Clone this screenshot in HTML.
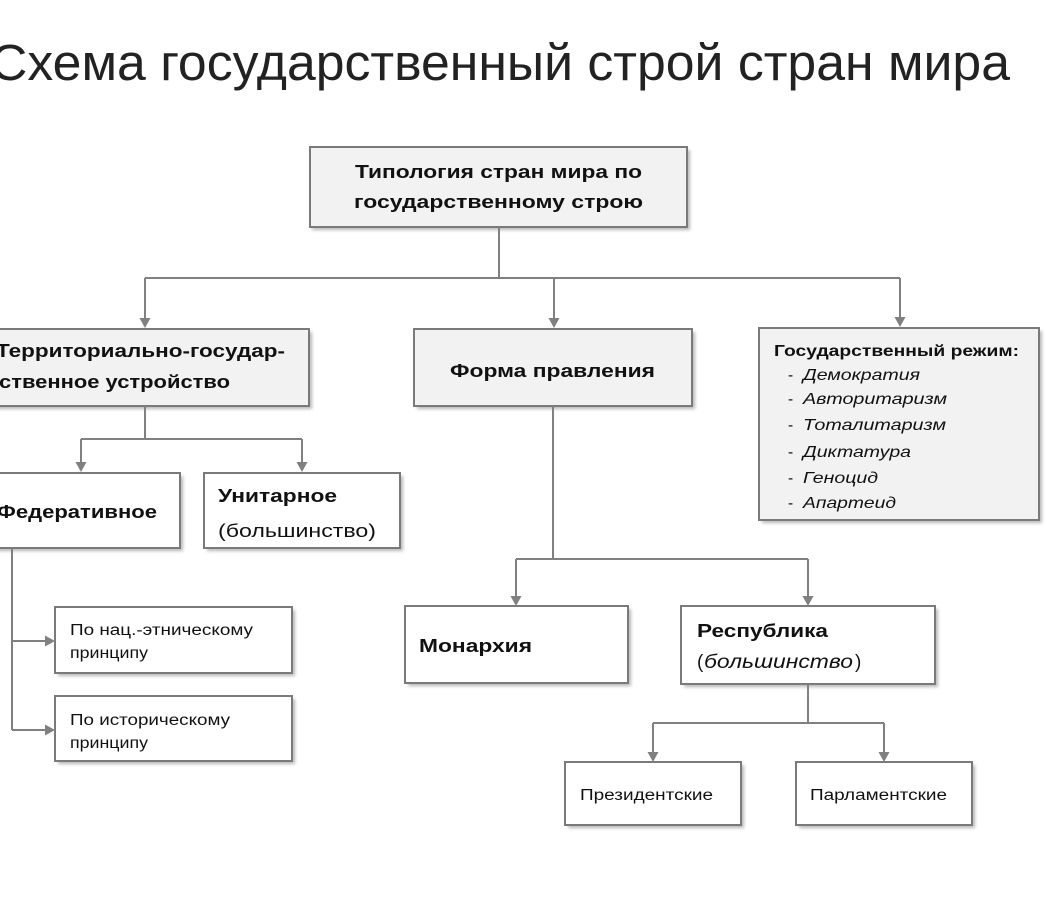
<!DOCTYPE html>
<html><head><meta charset="utf-8">
<style>
html,body{margin:0;padding:0;background:#fff;}
svg{display:block;}
text{font-family:"Liberation Sans","Noto Sans CJK SC",sans-serif;fill:#111;}
</style></head>
<body>
<svg width="1047" height="908" viewBox="0 0 1047 908" xmlns="http://www.w3.org/2000/svg">
<defs>
<filter id="sh" x="-5%" y="-5%" width="115%" height="120%">
<feGaussianBlur stdDeviation="1.5"/>
</filter>
</defs>
<rect width="1047" height="908" fill="#fff"/>

<!-- Title -->
<text x="-10" y="80" font-size="51" textLength="1020" lengthAdjust="spacingAndGlyphs" style="fill:#222">Схема государственный строй стран мира</text>

<!-- shadows -->
<g fill="#9a9a9a" opacity="0.7" filter="url(#sh)">
<rect x="312" y="150" width="378" height="80"/>
<rect x="-5" y="332" width="317" height="77"/>
<rect x="417" y="332" width="278" height="77"/>
<rect x="762" y="331" width="280" height="192"/>
<rect x="-5" y="476" width="188" height="75"/>
<rect x="207" y="476" width="196" height="75"/>
<rect x="58" y="610" width="237" height="66"/>
<rect x="58" y="699" width="237" height="65"/>
<rect x="408" y="609" width="223" height="77"/>
<rect x="684" y="609" width="254" height="78"/>
<rect x="568" y="765" width="176" height="63"/>
<rect x="799" y="765" width="176" height="63"/>
</g>

<!-- boxes -->
<g stroke="#7a7a7a" stroke-width="2">
<rect x="310" y="147" width="377" height="80" fill="#f2f2f2"/>
<rect x="-8" y="329" width="317" height="77" fill="#f2f2f2"/>
<rect x="414" y="329" width="278" height="77" fill="#f2f2f2"/>
<rect x="759" y="328" width="280" height="192" fill="#f2f2f2"/>
<rect x="-8" y="473" width="188" height="75" fill="#fff"/>
<rect x="204" y="473" width="196" height="75" fill="#fff"/>
<rect x="55" y="607" width="237" height="66" fill="#fff"/>
<rect x="55" y="696" width="237" height="65" fill="#fff"/>
<rect x="405" y="606" width="223" height="77" fill="#fff"/>
<rect x="681" y="606" width="254" height="78" fill="#fff"/>
<rect x="565" y="762" width="176" height="63" fill="#fff"/>
<rect x="796" y="762" width="176" height="63" fill="#fff"/>
</g>

<!-- connectors -->
<g stroke="#808080" stroke-width="2" fill="none">
<path d="M499 227 V278"/>
<path d="M145 278 H900"/>
<path d="M145 278 V320"/>
<path d="M554 278 V320"/>
<path d="M900 278 V319"/>
<path d="M145 406 V439"/>
<path d="M81 439 H302"/>
<path d="M81 439 V464"/>
<path d="M302 439 V464"/>
<path d="M12 548 V730"/>
<path d="M12 641 H47"/>
<path d="M12 730 H47"/>
<path d="M553 406 V559"/>
<path d="M516 559 H808"/>
<path d="M516 559 V598"/>
<path d="M808 559 V598"/>
<path d="M808 684 V723"/>
<path d="M653 723 H884"/>
<path d="M653 723 V754"/>
<path d="M884 723 V754"/>
</g>
<g fill="#808080">
<polygon points="139.5,318 150.5,318 145,328"/>
<polygon points="548.5,318 559.5,318 554,328"/>
<polygon points="894.5,317 905.5,317 900,327"/>
<polygon points="75.5,462 86.5,462 81,472"/>
<polygon points="296.5,462 307.5,462 302,472"/>
<polygon points="45,635.5 45,646.5 55,641"/>
<polygon points="45,724.5 45,735.5 55,730"/>
<polygon points="510.5,596 521.5,596 516,606"/>
<polygon points="802.5,596 813.5,596 808,606"/>
<polygon points="647.5,752 658.5,752 653,762"/>
<polygon points="878.5,752 889.5,752 884,762"/>
</g>

<!-- text -->
<g font-weight="bold" font-size="18.5">
<text x="355" y="178" textLength="287" lengthAdjust="spacingAndGlyphs">Типология стран мира по</text>
<text x="354" y="208" textLength="289" lengthAdjust="spacingAndGlyphs">государственному строю</text>
<text x="-4" y="357" textLength="289" lengthAdjust="spacingAndGlyphs">Территориально-государ-</text>
<text x="-1" y="388" textLength="231" lengthAdjust="spacingAndGlyphs">ственное устройство</text>
<text x="450" y="377" textLength="205" lengthAdjust="spacingAndGlyphs">Форма правления</text>
<text x="-3" y="518" textLength="160" lengthAdjust="spacingAndGlyphs">Федеративное</text>
<text x="218" y="502" textLength="119" lengthAdjust="spacingAndGlyphs">Унитарное</text>
<text x="419" y="652" textLength="113" lengthAdjust="spacingAndGlyphs">Монархия</text>
<text x="697" y="637" textLength="131" lengthAdjust="spacingAndGlyphs">Республика</text>
</g>
<text x="774" y="356" font-size="15.5" font-weight="bold" textLength="245" lengthAdjust="spacingAndGlyphs">Государственный режим:</text>
<g font-size="15.5">
<text x="788" y="380">-</text>
<text x="788" y="404">-</text>
<text x="788" y="430">-</text>
<text x="788" y="457">-</text>
<text x="788" y="483">-</text>
<text x="788" y="508">-</text>
</g>
<g font-size="16" font-style="italic">
<text x="803" y="380" textLength="117" lengthAdjust="spacingAndGlyphs">Демократия</text>
<text x="803" y="404" textLength="144" lengthAdjust="spacingAndGlyphs">Авторитаризм</text>
<text x="803" y="430" textLength="143" lengthAdjust="spacingAndGlyphs">Тоталитаризм</text>
<text x="803" y="457" textLength="108" lengthAdjust="spacingAndGlyphs">Диктатура</text>
<text x="803" y="483" textLength="75" lengthAdjust="spacingAndGlyphs">Геноцид</text>
<text x="803" y="508" textLength="93" lengthAdjust="spacingAndGlyphs">Апартеид</text>
</g>
<text x="218" y="537" font-size="18.5" textLength="158" lengthAdjust="spacingAndGlyphs">(большинство)</text>
<text x="697" y="668" font-size="19">(</text>
<text x="704" y="668" font-size="19" font-style="italic" textLength="149" lengthAdjust="spacingAndGlyphs">большинство</text>
<text x="855" y="668" font-size="19">)</text>
<g font-size="15.5">
<text x="70" y="635" textLength="183" lengthAdjust="spacingAndGlyphs">По нац.-этническому</text>
<text x="70" y="658" textLength="78" lengthAdjust="spacingAndGlyphs">принципу</text>
<text x="70" y="725" textLength="160" lengthAdjust="spacingAndGlyphs">По историческому</text>
<text x="70" y="748" textLength="78" lengthAdjust="spacingAndGlyphs">принципу</text>
<text x="580" y="800" textLength="133" lengthAdjust="spacingAndGlyphs">Президентские</text>
<text x="810" y="800" textLength="137" lengthAdjust="spacingAndGlyphs">Парламентские</text>
</g>
</svg>
</body></html>
